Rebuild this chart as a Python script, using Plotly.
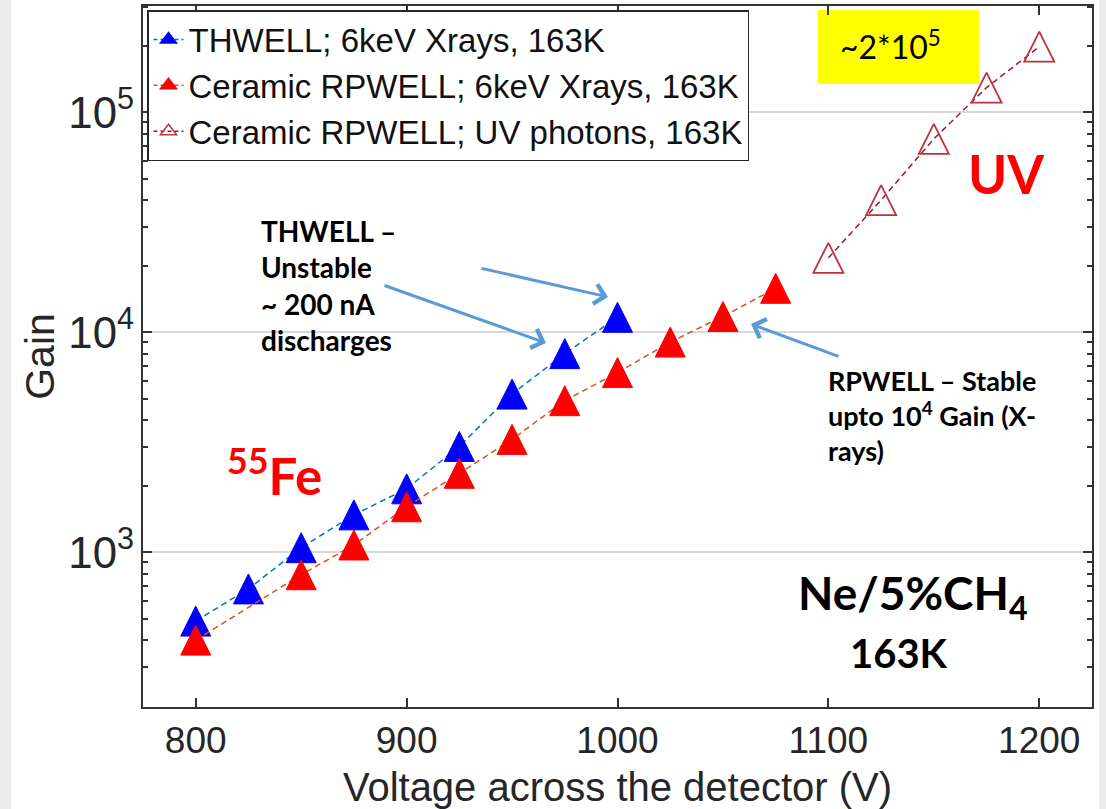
import plotly.graph_objects as go

# data
volt_thwell = [800, 825, 850, 875, 900, 925, 950, 975, 1000]
gain_thwell = [487, 682, 1050, 1480, 1944, 3030, 5240, 8000, 11700]

volt_rpwell = [800, 850, 875, 900, 925, 950, 975, 1000, 1025, 1050, 1075]
gain_rpwell = [399, 791, 1080, 1611, 2286, 3260, 4890, 6560, 9030, 11800, 15850]

volt_uv = [1100, 1125, 1150, 1175, 1200]
gain_uv = [21800, 39900, 75700, 129500, 198700]

series_names = [
    'THWELL; 6keV Xrays, 163K',
    'Ceramic RPWELL; 6keV Xrays, 163K',
    'Ceramic RPWELL; UV photons, 163K',
]

# plot area in pixels (1106 x 809 page)
W, H = 1106, 809
L, R, T, B = 143, 14, 6, 102
PW, PH = W - L - R, H - T - B


def px(x, y):
    """pixel position -> paper coords"""
    return (x - L) / PW, (H - B - y) / PH


MS = 30  # marker size
# arrow-down turned 180deg and pushed back by half its height = centred, equilateral-ish triangle
tri = dict(symbol='arrow-down', angle=180, standoff=MS / 2, size=MS)

line_cols = ['#0072BD', '#D95319', '#A2142F']
mark_cols = ['#0000ff', '#ff0000', '#b8343f']
dash = '6px,4px'

fig = go.Figure()

fig.add_trace(go.Scatter(
    x=volt_thwell, y=gain_thwell, showlegend=False, mode='lines+markers',
    line=dict(color=line_cols[0], width=1.5, dash=dash),
    marker=dict(color=mark_cols[0], line=dict(color=mark_cols[0], width=1), **tri)))

fig.add_trace(go.Scatter(
    x=volt_rpwell, y=gain_rpwell, showlegend=False, mode='lines+markers',
    line=dict(color=line_cols[1], width=1.5, dash=dash),
    marker=dict(color=mark_cols[1], line=dict(color=mark_cols[1], width=1), **tri)))

uv_tri = dict(tri)
uv_tri['symbol'] = 'arrow-down-open'
fig.add_trace(go.Scatter(
    x=volt_uv, y=gain_uv, showlegend=False, mode='lines+markers',
    line=dict(color=line_cols[2], width=1.5, dash=dash),
    marker=dict(color=mark_cols[2], line=dict(color=mark_cols[2], width=1.8), **uv_tri)))

# legend entries (plain triangles, the rotated arrows don't sit right in the legend)
leg_symbols = ['triangle-up', 'triangle-up', 'triangle-up-open']
for i in range(3):
    fig.add_trace(go.Scatter(
        x=[None], y=[None], name=series_names[i], mode='lines+markers',
        line=dict(color=line_cols[i], width=1.5, dash='4px,3px'),
        marker=dict(symbol=leg_symbols[i], size=14, color=mark_cols[i],
                    line=dict(color=mark_cols[i], width=1.5))))

axis_col = '#333333'
font_fam = 'Liberation Sans, Arial, sans-serif'

fig.update_xaxes(
    range=[775, 1225], tickvals=[800, 900, 1000, 1100, 1200],
    showgrid=False, zeroline=False,
    showline=True, linecolor=axis_col, linewidth=2, mirror='ticks',
    ticks='inside', ticklen=9, tickwidth=2, tickcolor=axis_col,
    tickfont=dict(family=font_fam, size=37, color='#262626'),
    title=dict(text='Voltage across the detector (V)', standoff=14,
               font=dict(family=font_fam, size=40, color='#262626')),
)
fig.update_yaxes(
    type='log', range=[2.297, 5.483], dtick=1, exponentformat='power',
    showgrid=True, gridcolor='#d9d9d9', gridwidth=2, zeroline=False,
    showline=True, linecolor=axis_col, linewidth=2, mirror='ticks',
    ticks='inside', ticklen=9, tickwidth=2, tickcolor=axis_col,
    minor=dict(dtick='D1', ticks='inside', ticklen=5, tickwidth=2, tickcolor=axis_col, showgrid=False),
    tickfont=dict(family=font_fam, size=35, color='#262626'),
    title=dict(text='Gain', standoff=1,
               font=dict(family=font_fam, size=41, color='#262626')),
)

annotations = []


def text_at(x, y, text, size, color='black', xanchor='center', yanchor='middle', align='center', weight='bold'):
    xp, yp = px(x, y)
    annotations.append(dict(
        x=xp, y=yp, xref='paper', yref='paper', text=text, showarrow=False,
        xanchor=xanchor, yanchor=yanchor, align=align,
        font=dict(family='Lato, Open Sans, sans-serif', size=size, color=color, weight=weight)))


def arrow(x0, y0, x1, y1):
    xp, yp = px(x1, y1)
    annotations.append(dict(
        x=xp, y=yp, xref='paper', yref='paper', text='', showarrow=True,
        ax=x0 - x1, ay=y0 - y1, arrowhead=4, arrowsize=1.3, arrowwidth=3,
        arrowcolor='#5b9bd5'))


text_at(890, 45, '~2*10<sup>5</sup>', 32, weight='normal')
text_at(1006, 173, 'UV', 53, color='#ff0000')
text_at(225, 473, '<sup>55</sup>Fe', 51, color='#ff0000', xanchor='left')
text_at(259, 285, 'THWELL –<br>Unstable<br>~ 200 nA<br>discharges', 28, xanchor='left', align='left')
text_at(826, 415, 'RPWELL – Stable<br>upto 10<sup>4</sup> Gain (X-<br>rays)', 27, xanchor='left', align='left')
text_at(913, 596, 'Ne/5%CH<sub>4</sub>', 46)
text_at(899, 653, '163K', 40)

arrow(480, 268, 608, 297)
arrow(383, 285, 546, 343)
arrow(840, 357, 751, 324)

x0, y0 = px(818, 84)
x1, y1 = px(979, 10)
shapes = [
    dict(type='rect', xref='paper', yref='paper', x0=x0, y0=y0, x1=x1, y1=y1,
         fillcolor='#ffff00', line=dict(width=0), layer='below'),
]
# grey slide edges
lx0, _ = px(0, 0)
lx1, _ = px(11, 0)
_, by0 = px(0, H)
_, by1 = px(0, 0)
shapes.append(dict(type='rect', xref='paper', yref='paper', x0=lx0, x1=lx1, y0=by0, y1=by1,
                   fillcolor='#ebebeb', line=dict(width=0), layer='below'))
rx0, _ = px(1099, 0)
rx1, _ = px(W, 0)
shapes.append(dict(type='rect', xref='paper', yref='paper', x0=rx0, x1=rx1, y0=by0, y1=by1,
                   fillcolor='#ebebeb', line=dict(width=0), layer='below'))

lgx, lgy = px(147, 10)
fig.update_layout(
    width=W, height=H,
    margin=dict(l=L, r=R, t=T, b=B, autoexpand=False),
    plot_bgcolor='white', paper_bgcolor='white',
    showlegend=True,
    legend=dict(x=lgx, y=lgy, xanchor='left', yanchor='top',
                bgcolor='white', bordercolor='#262626', borderwidth=1.5,
                font=dict(family=font_fam, size=33, color='#111111'),
                itemwidth=30, tracegroupgap=0),
    annotations=annotations,
    shapes=shapes,
)

# drop the default 8px body margin so the figure sits at the page corner
fig.write_html('out.html', config={'displayModeBar': False},
               post_script="document.body.style.margin='0px';")
